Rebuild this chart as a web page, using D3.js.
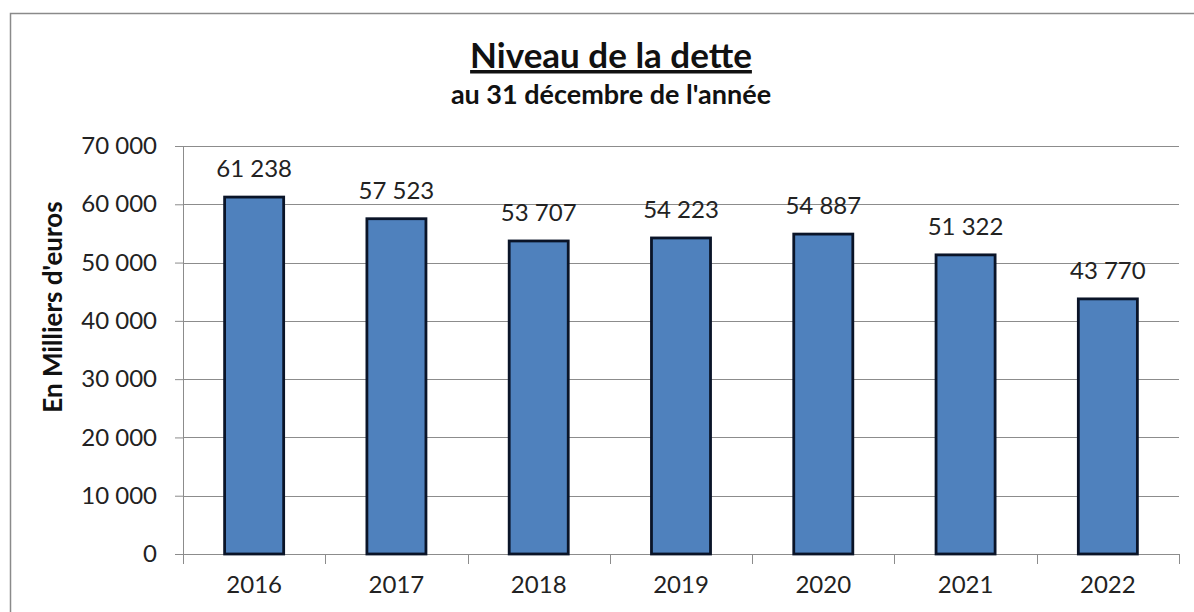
<!DOCTYPE html>
<html>
<head>
<meta charset="utf-8">
<script src="https://cdn.jsdelivr.net/npm/d3@7"></script>
<style>
  body { margin: 0; background: #fff; }
  svg { display: block; font-family: Lato, "Open Sans", sans-serif; }
</style>
</head>
<body>
<script>
  const years = ['2016', '2017', '2018', '2019', '2020', '2021', '2022'];
  const debt = [61238, 57523, 53707, 54223, 54887, 51322, 43770];
  const yTicks = [0, 10000, 20000, 30000, 40000, 50000, 60000, 70000];

  const width = 1194;
  const height = 612;
  const margin = { top: 146, right: 15, bottom: 58, left: 183 };
  const font = 'Lato, "Open Sans", sans-serif';

  const fmt = v => d3.format(',')(v).replace(/,/g, ' ');

  const svg = d3.select('body').append('svg')
    .attr('width', width)
    .attr('height', height);

  // outer frame
  svg.append('rect')
    .attr('x', 10.5).attr('y', 13.5)
    .attr('width', width + 20).attr('height', height + 20)
    .attr('fill', 'none')
    .attr('stroke', '#8a8a8a')
    .attr('stroke-width', 1.5);

  const x = d3.scaleBand()
    .domain(years)
    .range([margin.left, width - margin.right])
    .paddingInner(0.585)
    .paddingOuter(0.2925);

  const y = d3.scaleLinear()
    .domain([0, 70000])
    .range([height - margin.bottom, margin.top]);

  // gridlines
  svg.append('g')
    .selectAll('line')
    .data(yTicks.slice(1))
    .join('line')
    .attr('x1', margin.left).attr('x2', width - margin.right)
    .attr('y1', d => Math.round(y(d)) + 0.5).attr('y2', d => Math.round(y(d)) + 0.5)
    .attr('stroke', '#8c8c8c')
    .attr('stroke-width', 1);

  // y axis
  const yAxis = svg.append('g')
    .attr('transform', `translate(${margin.left},0)`)
    .call(d3.axisLeft(y).tickValues(yTicks).tickFormat(fmt).tickSizeOuter(0).tickSize(8).tickPadding(18))
    .attr('font-family', font);
  yAxis.select('.domain').attr('stroke', '#8c8c8c');
  yAxis.selectAll('.tick line').attr('stroke', '#8c8c8c');
  yAxis.selectAll('text')
    .attr('font-size', 24)
    .attr('fill', '#222');

  // x axis
  const xAxis = svg.append('g')
    .attr('transform', `translate(0,${height - margin.bottom})`)
    .call(d3.axisBottom(x).tickSize(0).tickPadding(22))
    .attr('font-family', font);
  xAxis.select('.domain').attr('stroke', '#8c8c8c');
  xAxis.selectAll('text')
    .attr('font-size', 24)
    .attr('fill', '#222');

  // category boundary ticks
  const step = x.step();
  xAxis.append('g')
    .selectAll('line')
    .data(d3.range(years.length + 1))
    .join('line')
    .attr('x1', i => Math.round(margin.left + i * step) + 0.5)
    .attr('x2', i => Math.round(margin.left + i * step) + 0.5)
    .attr('y1', 0).attr('y2', 10)
    .attr('stroke', '#8c8c8c');

  // bars
  svg.append('g')
    .selectAll('rect')
    .data(debt)
    .join('rect')
    .attr('x', (d, i) => x(years[i]))
    .attr('y', d => y(d))
    .attr('width', x.bandwidth())
    .attr('height', d => y(0) - y(d))
    .attr('fill', '#4f81bd')
    .attr('stroke', '#0a1428')
    .attr('stroke-width', 2.8);

  // value labels
  svg.append('g')
    .selectAll('text')
    .data(debt)
    .join('text')
    .attr('x', (d, i) => x(years[i]) + x.bandwidth() / 2)
    .attr('y', d => y(d) - 20)
    .attr('text-anchor', 'middle')
    .attr('font-size', 24)
    .attr('fill', '#222')
    .text(fmt);

  // titles
  svg.append('text')
    .attr('x', 611).attr('y', 68)
    .attr('text-anchor', 'middle')
    .attr('font-size', 35)
    .attr('font-weight', 'bold')
    .attr('text-decoration', 'underline')
    .attr('fill', '#111')
    .text('Niveau de la dette');

  svg.append('text')
    .attr('x', 611).attr('y', 104)
    .attr('text-anchor', 'middle')
    .attr('font-size', 27)
    .attr('font-weight', 'bold')
    .attr('fill', '#111')
    .text("au 31 décembre de l'année");

  svg.append('text')
    .attr('transform', 'translate(62,307) rotate(-90)')
    .attr('text-anchor', 'middle')
    .attr('font-size', 26)
    .attr('font-weight', 'bold')
    .attr('fill', '#111')
    .text("En Milliers d'euros");
</script>
</body>
</html>
